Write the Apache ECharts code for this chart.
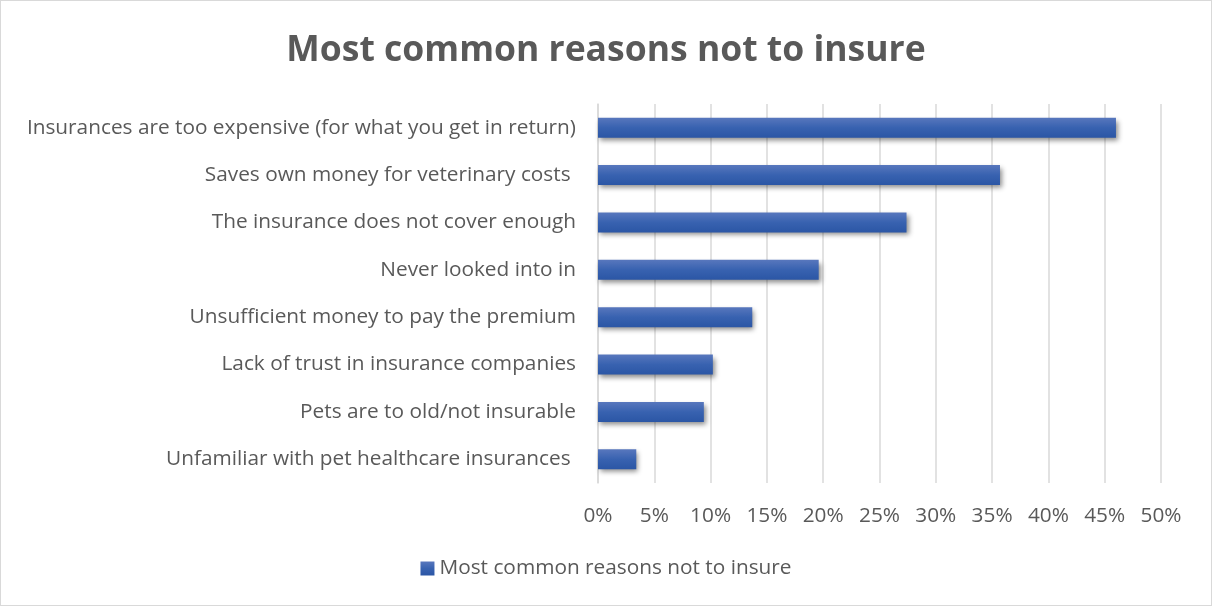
<!DOCTYPE html>
<html>
<head>
<meta charset="utf-8">
<script src="https://cdn.jsdelivr.net/npm/echarts@6/dist/echarts.min.js"></script>
<style>
  html, body { margin: 0; padding: 0; background: #fff; }
  #chart { width: 1212px; height: 606px; box-sizing: border-box; border: 1px solid #d9d9d9; }
</style>
</head>
<body>
<div id="chart"></div>
<script>
// Reasons, listed top to bottom
const categories = [
  'Insurances are too expensive (for what you get in return)',
  'Saves own money for veterinary costs ',
  'The insurance does not cover enough',
  'Never looked into in',
  'Unsufficient money to pay the premium',
  'Lack of trust in insurance companies',
  'Pets are to old/not insurable',
  'Unfamiliar with pet healthcare insurances '
];
// Share of respondents (fraction)
const shares = [0.460, 0.357, 0.274, 0.196, 0.137, 0.102, 0.094, 0.034];
const seriesName = 'Most common reasons not to insure';
const titleText = 'Most common reasons not to insure';

const font = '"Open Sans", "Noto Sans", sans-serif';
const textColor = '#595959';

const chart = echarts.init(document.getElementById('chart'));
chart.setOption({
  animation: false,
  title: {
    text: titleText,
    left: 'center',
    top: 27,
    textStyle: { fontFamily: font, fontSize: 35.5, fontWeight: 'bold', color: textColor }
  },
  grid: { left: 597, right: 50, top: 103, bottom: 122, containLabel: false },
  legend: {
    bottom: 21,
    left: 'center',
    itemWidth: 14,
    itemHeight: 14,
    itemGap: 6,
    icon: 'rect',
    textStyle: { fontFamily: font, fontSize: 20.8, color: textColor },
    data: [seriesName]
  },
  xAxis: {
    type: 'value',
    min: 0,
    max: 0.5,
    interval: 0.05,
    axisLine: { show: false },
    axisTick: { show: false },
    splitLine: { lineStyle: { color: '#d9d9d9', width: 1.5 } },
    axisLabel: {
      fontFamily: font, fontSize: 20.8, color: textColor, margin: 23,
      formatter: v => Math.round(v * 100) + '%'
    }
  },
  yAxis: {
    type: 'category',
    inverse: true,
    data: categories,
    axisLine: { show: true, lineStyle: { color: '#d9d9d9', width: 1.5 } },
    axisTick: { show: false },
    axisLabel: { fontFamily: font, fontSize: 20.8, color: textColor, margin: 22 }
  },
  series: [{
    name: seriesName,
    type: 'bar',
    data: shares,
    barWidth: 20,
    itemStyle: {
      color: new echarts.graphic.LinearGradient(0, 0, 0, 1, [
        { offset: 0, color: '#5877bd' },
        { offset: 0.5, color: '#3862b0' },
        { offset: 1, color: '#2b56a5' }
      ]),
      shadowColor: 'rgba(0,0,0,0.45)',
      shadowBlur: 5,
      shadowOffsetX: 2,
      shadowOffsetY: 3
    }
  }]
});
</script>
</body>
</html>
